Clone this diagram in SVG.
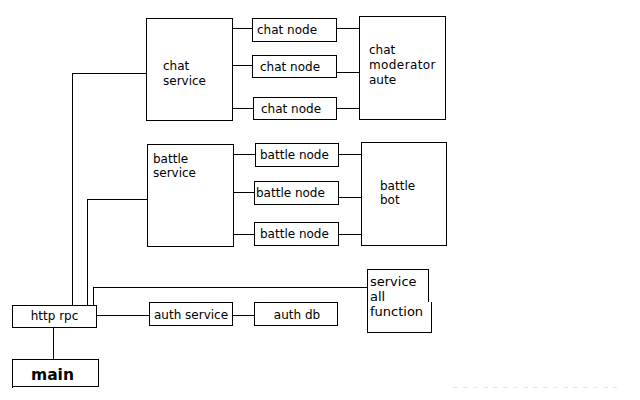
<svg xmlns="http://www.w3.org/2000/svg" width="640" height="400" viewBox="0 0 640 400">
<style>
.n rect,.b{fill:none;stroke:#000;stroke-width:1}
.ln{fill:none;stroke:#000;stroke-width:1}
text{font-family:"DejaVu Sans",Verdana,sans-serif;font-size:12px;fill:#000}
.f13{font-size:13px}
.bold{font-weight:bold;font-size:15.5px}
</style>
<rect width="640" height="400" style="fill:#fff;stroke:none"/>
<g id="connectors" shape-rendering="crispEdges">
<path class="ln" d="M72.5,305 V73.5 H146"/>
<path class="ln" d="M87.5,305 V199.5 H148"/>
<path class="ln" d="M93.5,305 V287.5 H367"/>
<path class="ln" d="M97,315.5 H149"/>
<path class="ln" d="M233,315.5 H254"/>
<path class="ln" d="M53.5,328 V359"/>
<path class="ln" d="M233,28.5 H252 M337,28.5 H359"/>
<path class="ln" d="M233,65.5 H252 M337,72.5 H359"/>
<path class="ln" d="M233,108.5 H253 M337,108.5 H359"/>
<path class="ln" d="M234,154.5 H255 M339,154.5 H362"/>
<path class="ln" d="M234,192.5 H254 M339,197.5 H362"/>
<path class="ln" d="M234,234.5 H254 M339,234.5 H362"/>
<path d="M453,387.5 H617" stroke="#e8e8e8" stroke-dasharray="5,5" fill="none"/>
</g>
<g id="chat-service" class="n" shape-rendering="crispEdges"><rect x="146.5" y="18.5" width="86" height="102"/><text x="163" y="70">chat</text><text x="163" y="85">service</text></g>
<g id="chat-node-1" class="n" shape-rendering="crispEdges"><rect x="252.5" y="18.5" width="84" height="23"/><text x="257" y="34">chat node</text></g>
<g id="chat-node-2" class="n" shape-rendering="crispEdges"><rect x="252.5" y="55.5" width="84" height="22"/><text x="260" y="71">chat node</text></g>
<g id="chat-node-3" class="n" shape-rendering="crispEdges"><rect x="253.5" y="97.5" width="83" height="22"/><text x="261" y="113">chat node</text></g>
<g id="chat-moderator" class="n" shape-rendering="crispEdges"><rect x="359.5" y="16.5" width="86" height="103"/><text x="369" y="54">chat</text><text x="369" y="69" letter-spacing="0.4">moderator</text><text x="369" y="84">aute</text></g>
<g id="battle-service" class="n" shape-rendering="crispEdges"><rect x="147.5" y="144.5" width="86" height="102"/><text x="153" y="163">battle</text><text x="153" y="177">service</text></g>
<g id="battle-node-1" class="n" shape-rendering="crispEdges"><rect x="255.5" y="143.5" width="83" height="23"/><text x="260" y="159">battle node</text></g>
<g id="battle-node-2" class="n" shape-rendering="crispEdges"><rect x="254.5" y="181.5" width="84" height="23"/><text x="256" y="197">battle node</text></g>
<g id="battle-node-3" class="n" shape-rendering="crispEdges"><rect x="254.5" y="222.5" width="84" height="23"/><text x="260" y="238">battle node</text></g>
<g id="battle-bot" class="n" shape-rendering="crispEdges"><rect x="361.5" y="142.5" width="85" height="103"/><text x="380" y="190">battle</text><text x="380" y="204">bot</text></g>
<g id="http-rpc" class="n" shape-rendering="crispEdges"><rect x="12.5" y="305.5" width="84" height="22"/><text x="54.5" y="320" text-anchor="middle">http rpc</text></g>
<g id="auth-service" class="n" shape-rendering="crispEdges"><rect x="149.5" y="302.5" width="83" height="23"/><text x="154" y="319">auth service</text></g>
<g id="auth-db" class="n" shape-rendering="crispEdges"><rect x="254.5" y="302.5" width="83" height="23"/><text x="297" y="319" text-anchor="middle">auth db</text></g>
<g id="service-all-function" class="n" shape-rendering="crispEdges"><path class="b" d="M428.5,269.5 H367.5 V332.5 H431.5 V302 M428.5,269.5 V302"/><text class="f13" x="370" y="286">service</text><text class="f13" x="370" y="301">all</text><text class="f13" x="370" y="316">function</text></g>
<g id="main" class="n" shape-rendering="crispEdges"><path class="b" d="M12.5,388 V359.5 H98.5 V386.5 H12"/><text class="bold" x="31" y="380">main</text></g>
</svg>
